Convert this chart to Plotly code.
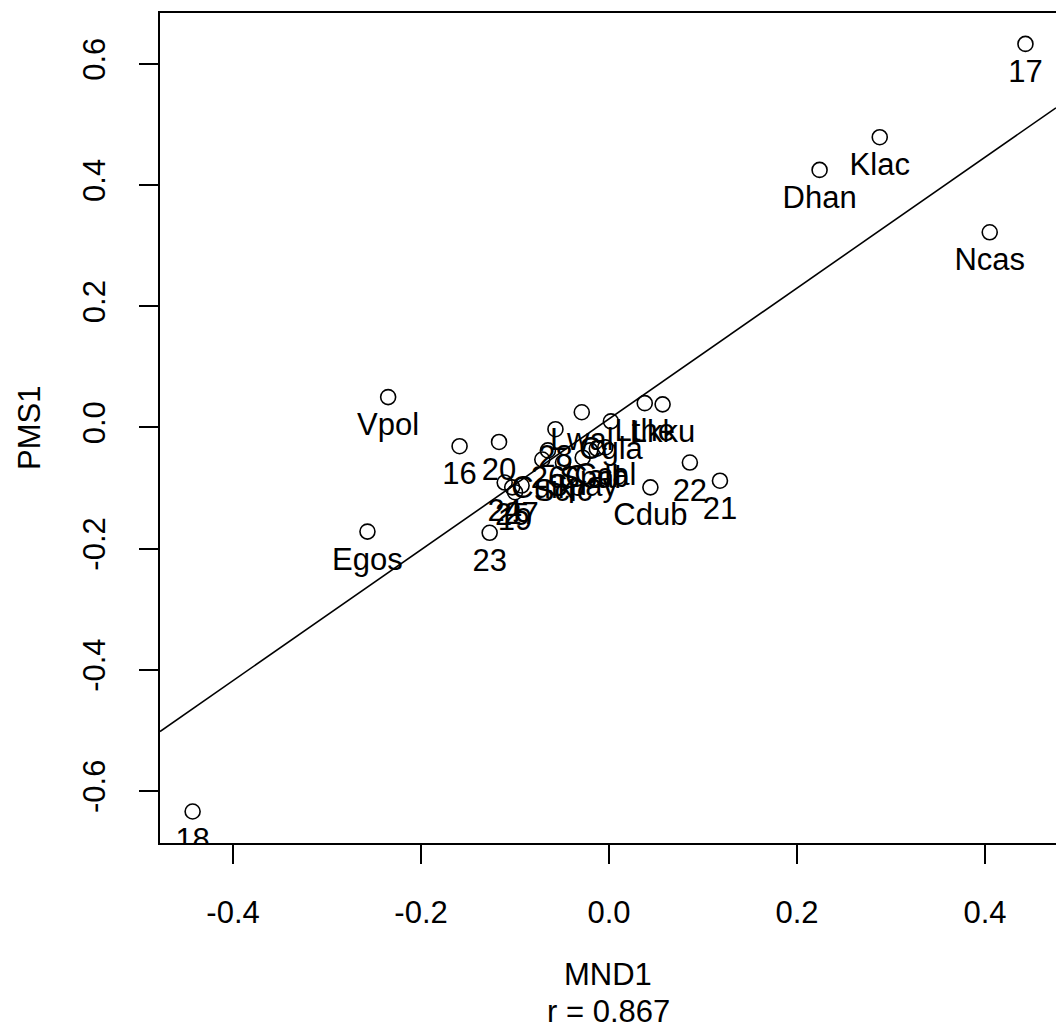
import plotly.graph_objects as go

# ---- data ----
labels = ["17", "Klac", "Dhan", "Ncas", "Vpol", "16", "20", "Egos", "23", "18",
          "22", "21", "Cdub", "Lthe", "Lkku", "Cgla", "Lwal", "28", "26", "Cuik",
          "Scic", "Spay", "Spal", "Calb", "Ccal", "24", "25", "19", "27"]
mnd1 = [0.443, 0.288, 0.224, 0.405, -0.235, -0.159, -0.117, -0.257, -0.127, -0.443,
        0.086, 0.118, 0.044, 0.038, 0.057, 0.002, -0.029, -0.057, -0.065, -0.071,
        -0.049, -0.028, -0.020, -0.013, -0.004, -0.111, -0.103, -0.100, -0.093]
pms1 = [0.633, 0.479, 0.425, 0.322, 0.050, -0.031, -0.024, -0.172, -0.174, -0.634,
        -0.058, -0.088, -0.099, 0.040, 0.038, 0.010, 0.025, -0.003, -0.038, -0.053,
        -0.058, -0.050, -0.038, -0.035, -0.033, -0.091, -0.099, -0.107, -0.096]

fit_intercept = 0.014
fit_slope = 1.08
r_value = 0.867

x_ticks = [-0.4, -0.2, 0.0, 0.2, 0.4]
y_ticks = [-0.6, -0.4, -0.2, 0.0, 0.2, 0.4, 0.6]
x_range = [-0.4777, 0.4755]
y_range = [-0.686, 0.684]

FONT = "Liberation Sans, Arial, Helvetica, sans-serif"
FS = 31
LW = 1.6

fig = go.Figure()

# regression line across the plotting region
fig.add_trace(go.Scatter(
    x=x_range, y=[fit_intercept + fit_slope * v for v in x_range],
    mode="lines", line=dict(color="black", width=LW),
    hoverinfo="skip", showlegend=False))

# open circles
fig.add_trace(go.Scatter(
    x=mnd1, y=pms1, mode="markers",
    marker=dict(symbol="circle-open", size=15, color="black", line=dict(width=LW)),
    showlegend=False))

# labels below the points (invisible marker only sets the offset)
fig.add_trace(go.Scatter(
    x=mnd1, y=pms1, mode="markers+text", text=labels,
    textposition="bottom center",
    textfont=dict(family=FONT, size=FS, color="black"),
    marker=dict(size=22, opacity=0, color="black"),
    hoverinfo="skip", showlegend=False, cliponaxis=True))

axis_common = dict(
    showgrid=False, zeroline=False, showline=True, linecolor="black", linewidth=LW,
    ticks="outside", ticklen=19, tickwidth=LW, tickcolor="black",
    tickfont=dict(family=FONT, size=FS, color="black"),
)

fig.update_layout(
    width=1056, height=1030,
    margin=dict(l=160, r=0, t=13, b=187),
    paper_bgcolor="white", plot_bgcolor="white",
    font=dict(family=FONT, size=FS, color="black"),
    xaxis=dict(range=x_range, tickvals=x_ticks,
               ticktext=[f"{v:.1f}" for v in x_ticks],
               mirror=True, ticklabelstandoff=22, **axis_common),
    yaxis=dict(range=y_range, tickvals=y_ticks,
               ticktext=[f"{v:.1f}" for v in y_ticks],
               tickangle=-90, mirror=False, ticklabelstandoff=22, **axis_common),
    annotations=[
        dict(text="MND1", xref="paper", yref="paper", x=0.5, y=0,
             xanchor="center", yanchor="middle", yshift=-131, showarrow=False,
             font=dict(family=FONT, size=FS, color="black")),
        dict(text=f"r = {r_value:.3f}", xref="paper", yref="paper", x=0.5, y=0,
             xanchor="center", yanchor="middle", yshift=-168, showarrow=False,
             font=dict(family=FONT, size=FS, color="black")),
        dict(text="PMS1", xref="paper", yref="paper", x=0, y=0.5,
             xanchor="center", yanchor="middle", xshift=-131, textangle=-90,
             showarrow=False, font=dict(family=FONT, size=FS, color="black")),
    ],
)

fig.write_html("out.html")
